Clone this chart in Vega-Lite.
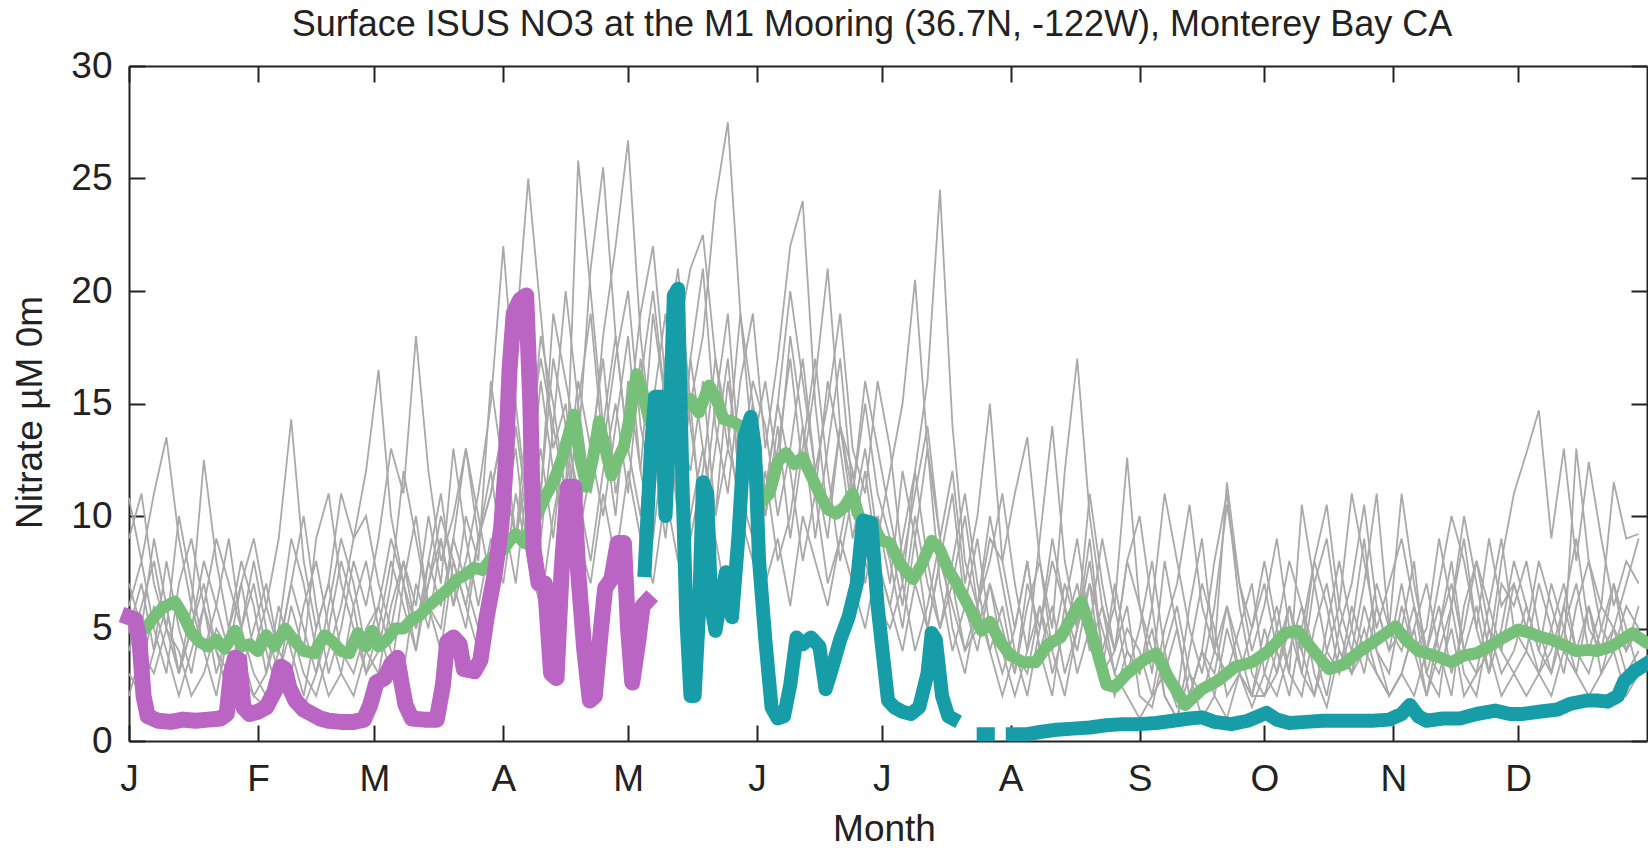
{
"$schema":"https://vega.github.io/schema/vega-lite/v6.json",
"width":1518,"height":675,
"autosize":{"type":"none"},
"padding":{"left":129,"top":66,"right":1,"bottom":107},
"background":"white",
"title":{"text":"Surface ISUS NO3 at the M1 Mooring (36.7N, -122W), Monterey Bay CA","anchor":"middle","frame":"group","offset":9,"dy":34,"baseline":"alphabetic","dx":-16,"font":"Liberation Sans","fontSize":36,"fontWeight":"normal","color":"#222222"},
"config":{"view":{"stroke":null},"axis":{"domainColor":"#222222","domainWidth":2,"tickColor":"#222222","tickWidth":2,"tickSize":-16,"grid":false,"labelFont":"Liberation Sans","labelFontSize":37,"labelColor":"#222222","titleFont":"Liberation Sans","titleFontSize":37,"titleFontWeight":"normal","titleColor":"#222222","labelFlush":false,"labelOverlap":false}},
"datasets":{
"gray":[
{"x":0,"a":6,"b":9,"c":4,"d":3,"e":5,"f":7,"g":2,"h":10.8,"i":5},
{"x":3,"a":8,"b":11,"c":6,"d":2,"e":3,"f":5,"g":4,"h":8,"i":7},
{"x":6,"a":5,"b":7,"c":8,"d":4,"e":6,"f":9,"g":3,"h":11,"i":4},
{"x":9,"a":3,"b":5,"c":5,"d":6,"e":4,"f":6,"g":5,"h":13.5,"i":8},
{"x":12,"a":7,"b":3,"c":10,"d":3,"e":2,"f":3,"g":4,"h":9,"i":5},
{"x":15,"a":9,"b":6,"c":7,"d":5,"e":4,"f":5,"g":2,"h":6,"i":3},
{"x":18,"a":6,"b":4,"c":4,"d":7,"e":6,"f":8,"g":3,"h":12.5,"i":6},
{"x":21,"a":4,"b":2,"c":6,"d":4,"e":3,"f":6,"g":5,"h":8,"i":9},
{"x":24,"a":3,"b":5,"c":9,"d":2,"e":5,"f":4,"g":4,"h":5,"i":7},
{"x":27,"a":5,"b":8,"c":5,"d":3,"e":4,"f":7,"g":3,"h":7,"i":5},
{"x":30,"a":7,"b":6,"c":3,"d":5,"e":2,"f":9,"g":2,"h":4,"i":8},
{"x":33,"a":4,"b":3,"c":2,"d":7,"e":3,"f":6,"g":1.5,"h":6,"i":5},
{"x":36,"a":2,"b":5,"c":4,"d":4,"e":6,"f":4,"g":3,"h":9,"i":3},
{"x":39,"a":3,"b":9,"c":7,"d":3,"e":4,"f":7,"g":5,"h":14.3,"i":6},
{"x":42,"a":6,"b":7,"c":5,"d":1.5,"e":2,"f":10,"g":3,"h":8,"i":4},
{"x":45,"a":8,"b":4,"c":3,"d":3,"e":5,"f":6,"g":2,"h":5,"i":9},
{"x":48,"a":5,"b":2,"c":6,"d":5,"e":7,"f":3,"g":4,"h":7,"i":11},
{"x":51,"a":3,"b":3,"c":9,"d":8,"e":4,"f":5,"g":6,"h":11,"i":7},
{"x":54,"a":2,"b":6,"c":7,"d":6,"e":3,"f":8,"g":9,"h":9,"i":5},
{"x":57,"a":4,"b":8,"c":4,"d":3,"e":5,"f":6,"g":12,"h":10,"i":3},
{"x":60,"a":6,"b":5,"c":3,"d":4,"e":6,"f":9,"g":16.5,"h":7,"i":5},
{"x":63,"a":9,"b":3,"c":6,"d":7,"e":4,"f":13,"g":10,"h":5,"i":8},
{"x":66,"a":7,"b":7,"c":8,"d":12,"e":3,"f":11,"g":7,"h":8,"i":6},
{"x":69,"a":4,"b":10,"c":5,"d":9,"e":7,"f":18,"g":5,"h":6,"i":4},
{"x":72,"a":8,"b":6,"c":7,"d":6,"e":5,"f":12,"g":8,"h":10,"i":7},
{"x":75,"a":11,"b":4,"c":10,"d":5,"e":9,"f":8,"g":6,"h":7,"i":9},
{"x":78,"a":7,"b":8,"c":8,"d":9,"e":6,"f":10,"g":9,"h":13,"i":6},
{"x":81,"a":5,"b":6,"c":6,"d":13,"e":8,"f":13,"g":7,"h":9,"i":10},
{"x":84,"a":9,"b":9,"c":4,"d":10,"e":11,"f":9,"g":5,"h":6,"i":8},
{"x":87,"a":12,"b":11,"c":7,"d":7,"e":15,"f":11,"g":8,"h":9,"i":16},
{"x":90,"a":8,"b":14,"c":10,"d":12,"e":22,"f":14,"g":10,"h":7,"i":12},
{"x":93,"a":14,"b":9,"c":13,"d":9,"e":15,"f":18,"g":7,"h":11,"i":9},
{"x":96,"a":10,"b":12,"c":8,"d":15,"e":10,"f":25,"g":12,"h":8,"i":13},
{"x":99,"a":16,"b":18,"c":11,"d":11,"e":13,"f":19,"g":9,"h":6,"i":17},
{"x":102,"a":12,"b":15,"c":17,"d":19,"e":9,"f":13,"g":14,"h":10,"i":14},
{"x":105,"a":9,"b":11,"c":14,"d":16,"e":14,"f":15,"g":11,"h":13,"i":20},
{"x":108,"a":15,"b":25.8,"c":9,"d":13,"e":11,"f":10,"g":16,"h":9,"i":15},
{"x":111,"a":19,"b":20,"c":12,"d":21,"e":8,"f":13,"g":13,"h":7,"i":11},
{"x":114,"a":13,"b":14,"c":18,"d":25.5,"e":12,"f":17,"g":10,"h":11,"i":14},
{"x":117,"a":17,"b":10,"c":22,"d":18,"e":15,"f":11,"g":14,"h":8,"i":18},
{"x":120,"a":20,"b":16,"c":26.7,"d":13,"e":11,"f":14,"g":18,"h":12,"i":13},
{"x":123,"a":14,"b":12,"c":18,"d":10,"e":17,"f":19,"g":12,"h":9,"i":16},
{"x":126,"a":11,"b":19,"c":13,"d":15,"e":13,"f":22,"g":9,"h":7,"i":20},
{"x":129,"a":17,"b":15,"c":16,"d":19,"e":9,"f":16,"g":14,"h":11,"i":15},
{"x":132,"a":21,"b":10,"c":20,"d":13,"e":14,"f":12,"g":11,"h":8,"i":18},
{"x":135,"a":15,"b":17,"c":14,"d":9,"e":12,"f":17,"g":15,"h":10,"i":21},
{"x":138,"a":18,"b":21,"c":10,"d":12,"e":16,"f":13,"g":9,"h":13,"i":22.5},
{"x":141,"a":24,"b":14,"c":15,"d":17,"e":10,"f":10,"g":13,"h":9,"i":17},
{"x":144,"a":27.5,"b":11,"c":19,"d":14,"e":13,"f":16,"g":17,"h":6,"i":13},
{"x":147,"a":19,"b":16,"c":12,"d":10,"e":11,"f":12,"g":11,"h":10,"i":19},
{"x":150,"a":13,"b":19,"c":16,"d":15,"e":9,"f":14,"g":15,"h":8,"i":15},
{"x":153,"a":16,"b":13,"c":14,"d":11,"e":12,"f":10,"g":10,"h":7,"i":11},
{"x":156,"a":12,"b":17,"c":10,"d":15,"e":8,"f":14,"g":13,"h":9,"i":15},
{"x":159,"a":18,"b":22,"c":13,"d":12,"e":10,"f":9,"g":17,"h":6,"i":20},
{"x":162,"a":14,"b":24,"c":17,"d":8,"e":14,"f":13,"g":12,"h":10,"i":16},
{"x":165,"a":9,"b":15,"c":12,"d":11,"e":11,"f":17,"g":16,"h":8,"i":12},
{"x":168,"a":13,"b":10,"c":9,"d":16,"e":7,"f":12,"g":21,"h":6,"i":15},
{"x":171,"a":17,"b":14,"c":14,"d":13,"e":9,"f":8,"g":14,"h":9,"i":19},
{"x":174,"a":11,"b":12,"c":11,"d":9,"e":12,"f":11,"g":10,"h":7,"i":13},
{"x":177,"a":8,"b":7,"c":16,"d":12,"e":8,"f":15,"g":13,"h":5,"i":11},
{"x":180,"a":10,"b":10,"c":13,"d":8,"e":6,"f":11,"g":9,"h":8,"i":16},
{"x":183,"a":7,"b":8,"c":10,"d":6,"e":5,"f":9,"g":12,"h":6,"i":13},
{"x":186,"a":12,"b":5,"c":7,"d":9,"e":7,"f":6,"g":15,"h":4,"i":8},
{"x":189,"a":9,"b":9,"c":12,"d":12,"e":4,"f":10,"g":20.5,"h":7,"i":11},
{"x":192,"a":5,"b":13,"c":16,"d":8,"e":6,"f":7,"g":13,"h":5,"i":14},
{"x":195,"a":8,"b":7,"c":24.5,"d":5,"e":9,"f":5,"g":9,"h":8,"i":9},
{"x":198,"a":11,"b":4,"c":14,"d":7,"e":5,"f":8,"g":12,"h":6,"i":7},
{"x":201,"a":6,"b":6,"c":8,"d":4,"e":3,"f":11,"g":7,"h":4,"i":10},
{"x":204,"a":4,"b":9,"c":6,"d":6,"e":6,"f":7,"g":10,"h":5,"i":6},
{"x":207,"a":7,"b":5,"c":10,"d":9,"e":4,"f":4,"g":15,"h":7,"i":8},
{"x":210,"a":5,"b":3,"c":7,"d":8,"e":2,"f":6,"g":8,"h":4,"i":11},
{"x":213,"a":3,"b":5,"c":4,"d":11,"e":4,"f":3,"g":5,"h":2,"i":7},
{"x":216,"a":6,"b":8,"c":2,"d":13.5,"e":3,"f":7,"g":8,"h":4,"i":4},
{"x":219,"a":8,"b":4,"c":5,"d":8,"e":6,"f":5,"g":4,"h":6,"i":9},
{"x":222,"a":4,"b":2,"c":8,"d":5,"e":4,"f":9,"g":6,"h":3,"i":14},
{"x":225,"a":2,"b":6,"c":6,"d":12,"e":7,"f":6,"g":3,"h":5,"i":8},
{"x":228,"a":5,"b":9,"c":3,"d":17,"e":5,"f":4,"g":5,"h":7,"i":5},
{"x":231,"a":7,"b":5,"c":5,"d":10,"e":9,"f":7,"g":8,"h":4,"i":11},
{"x":234,"a":3,"b":3,"c":9,"d":6,"e":4,"f":5,"g":4,"h":6,"i":7},
{"x":237,"a":4,"b":7,"c":6,"d":4,"e":6,"f":3,"g":2,"h":3,"i":4},
{"x":240,"a":6,"b":4,"c":3,"d":8,"e":12.6,"f":5,"g":4,"h":2,"i":8},
{"x":243,"a":2,"b":3,"c":5,"d":6,"e":6,"f":4,"g":3,"h":1,"i":10},
{"x":246,"a":1.5,"b":6,"c":8,"d":3,"e":4,"f":2,"g":5,"h":2,"i":6},
{"x":249,"a":4,"b":2,"c":4,"d":8,"e":3,"f":5,"g":2,"h":3,"i":11},
{"x":252,"a":6,"b":1,"c":2,"d":5,"e":5,"f":7,"g":1,"h":1.5,"i":8},
{"x":255,"a":3,"b":4,"c":6,"d":2,"e":2,"f":10.5,"g":3,"h":2,"i":5},
{"x":258,"a":1,"b":7,"c":9,"d":4,"e":4,"f":6,"g":2,"h":4,"i":3},
{"x":261,"a":2,"b":5,"c":4,"d":8,"e":3,"f":4,"g":4,"h":2,"i":6},
{"x":264,"a":5,"b":2,"c":3,"d":11,"e":6,"f":11.5,"g":6,"h":1,"i":10.5},
{"x":267,"a":3,"b":3,"c":5,"d":6,"e":4,"f":7,"g":3,"h":3,"i":7},
{"x":270,"a":2,"b":5,"c":7,"d":3,"e":2,"f":4,"g":1.5,"h":2,"i":5},
{"x":273,"a":4,"b":7,"c":3,"d":2,"e":5,"f":6,"g":3,"h":2,"i":8},
{"x":276,"a":6,"b":4,"c":5,"d":4,"e":3,"f":9,"g":2,"h":3,"i":5},
{"x":279,"a":3,"b":2,"c":8,"d":6,"e":6,"f":5,"g":4,"h":5,"i":3},
{"x":282,"a":2,"b":5,"c":6,"d":3,"e":4,"f":4,"g":6,"h":3,"i":10.5},
{"x":285,"a":5,"b":8,"c":4,"d":7,"e":2,"f":8,"g":3,"h":2,"i":7},
{"x":288,"a":7,"b":6,"c":2,"d":9,"e":5,"f":10.5,"g":1.5,"h":4,"i":4},
{"x":291,"a":4,"b":3,"c":5,"d":5,"e":8,"f":6,"g":4,"h":3,"i":6},
{"x":294,"a":3,"b":5,"c":7,"d":3,"e":5,"f":4,"g":3,"h":6,"i":11},
{"x":297,"a":6,"b":9,"c":10.5,"d":4,"e":3,"f":7,"g":5,"h":4,"i":8},
{"x":300,"a":4,"b":4,"c":6,"d":7,"e":6,"f":11,"g":3,"h":3,"i":5},
{"x":303,"a":2,"b":3,"c":4,"d":5,"e":4,"f":5,"g":2,"h":2,"i":7},
{"x":306,"a":3,"b":6,"c":5,"d":11,"e":7,"f":4,"g":3,"h":3,"i":9},
{"x":309,"a":5,"b":4,"c":8,"d":7,"e":4,"f":6,"g":2,"h":5,"i":6},
{"x":312,"a":7,"b":2,"c":3,"d":4,"e":5,"f":3,"g":4,"h":2,"i":4},
{"x":315,"a":4,"b":5,"c":2,"d":6,"e":9,"f":5,"g":3,"h":4,"i":7},
{"x":318,"a":2,"b":8,"c":6,"d":3,"e":6,"f":7,"g":5,"h":6,"i":10},
{"x":321,"a":6,"b":4,"c":9,"d":5,"e":10,"f":4,"g":2,"h":3,"i":8},
{"x":324,"a":8,"b":3,"c":5,"d":8,"e":7,"f":6,"g":3,"h":2,"i":5},
{"x":327,"a":5,"b":6,"c":3,"d":6,"e":4,"f":3,"g":4,"h":5,"i":9},
{"x":330,"a":3,"b":9,"c":7,"d":4,"e":8,"f":5,"g":2,"h":4,"i":6},
{"x":333,"a":4,"b":5,"c":6,"d":7,"e":11,"f":8,"g":3,"h":3,"i":7},
{"x":336,"a":6,"b":4,"c":8,"d":5,"e":12.8,"f":6,"g":2,"h":4,"i":5},
{"x":339,"a":4,"b":7,"c":5,"d":3,"e":14.7,"f":4,"g":3,"h":3,"i":8},
{"x":342,"a":3,"b":5,"c":3,"d":4,"e":9,"f":7,"g":2,"h":5,"i":6},
{"x":345,"a":5,"b":3,"c":6,"d":6,"e":13,"f":5,"g":4,"h":7,"i":4},
{"x":348,"a":7,"b":6,"c":9,"d":4,"e":8,"f":3,"g":3,"h":4,"i":13},
{"x":351,"a":4,"b":8,"c":5,"d":3,"e":12.4,"f":6,"g":2,"h":6,"i":8},
{"x":354,"a":6,"b":5,"c":4,"d":5,"e":9,"f":4,"g":3,"h":3,"i":6},
{"x":357,"a":5,"b":4,"c":7,"d":7,"e":6,"f":5,"g":4,"h":5,"i":11.5},
{"x":360,"a":3,"b":6,"c":5,"d":4,"e":8,"f":7,"g":2,"h":4,"i":9},
{"x":363,"a":4,"b":5,"c":3,"d":5,"e":7,"f":9,"g":3,"h":6,"i":9.2}
],
"green":[
{"x":4,"v":5.0},{"x":6,"v":5.5},{"x":8,"v":5.9},{"x":11,"v":6.2},{"x":13,"v":5.6},{"x":15,"v":4.8},{"x":17,"v":4.4},{"x":19,"v":4.2},{"x":21,"v":4.5},{"x":23,"v":4.1},{"x":25.5,"v":4.9},{"x":27,"v":4.2},{"x":29,"v":4.3},{"x":31,"v":4.0},{"x":33,"v":4.7},{"x":35,"v":4.2},{"x":37.5,"v":5.0},{"x":40,"v":4.4},{"x":42,"v":4.0},{"x":44.5,"v":3.9},{"x":47,"v":4.7},{"x":49,"v":4.4},{"x":51,"v":4.0},{"x":53,"v":3.9},{"x":55,"v":4.8},{"x":57,"v":4.2},{"x":58.5,"v":4.9},{"x":60,"v":4.2},{"x":62,"v":4.5},{"x":64,"v":5.0},{"x":66,"v":5.0},{"x":68,"v":5.4},{"x":70,"v":5.6},{"x":72,"v":6.0},{"x":74.5,"v":6.4},{"x":77,"v":6.8},{"x":79,"v":7.2},{"x":81,"v":7.4},{"x":83,"v":7.7},{"x":85,"v":7.6},{"x":87.5,"v":8.2},{"x":90,"v":8.5},{"x":91.5,"v":8.9},{"x":93,"v":9.2},{"x":95,"v":8.8},{"x":97,"v":9.6},{"x":99,"v":10.4},{"x":100.5,"v":11.0},{"x":102,"v":11.5},{"x":104,"v":12.5},{"x":105.5,"v":13.5},{"x":107,"v":14.5},{"x":108.5,"v":12.5},{"x":110,"v":11.3},{"x":111.5,"v":12.5},{"x":113,"v":14.2},{"x":114.5,"v":13.0},{"x":116,"v":11.8},{"x":117.5,"v":12.5},{"x":119,"v":13.1},{"x":120.5,"v":14.5},{"x":122,"v":16.3},{"x":123.5,"v":15.5},{"x":125,"v":14.3},{"x":127,"v":13.5},{"x":129,"v":14.0},{"x":131,"v":14.5},{"x":133,"v":14.8},{"x":135,"v":15.2},{"x":137,"v":14.6},{"x":139.5,"v":15.8},{"x":141,"v":15.3},{"x":143,"v":14.3},{"x":145,"v":14.2},{"x":147,"v":14.0},{"x":149,"v":13.3},{"x":151,"v":11.5},{"x":152,"v":10.6},{"x":154,"v":11.0},{"x":156,"v":12.4},{"x":158,"v":12.8},{"x":160,"v":12.3},{"x":162,"v":12.6},{"x":164,"v":11.8},{"x":166,"v":11.0},{"x":168,"v":10.3},{"x":170,"v":10.1},{"x":172,"v":10.4},{"x":174,"v":11.0},{"x":175.5,"v":10.0},{"x":177,"v":9.6},{"x":179,"v":9.5},{"x":181,"v":8.9},{"x":183,"v":8.8},{"x":185,"v":8.0},{"x":187,"v":7.5},{"x":188.5,"v":7.2},{"x":190.5,"v":7.8},{"x":193,"v":8.9},{"x":195,"v":8.5},{"x":197,"v":7.6},{"x":199,"v":7.0},{"x":201,"v":6.3},{"x":203,"v":5.6},{"x":205,"v":4.9},{"x":207,"v":5.3},{"x":209.5,"v":4.4},{"x":212,"v":3.8},{"x":215,"v":3.5},{"x":218,"v":3.5},{"x":221,"v":4.3},{"x":224,"v":4.6},{"x":227,"v":5.6},{"x":229,"v":6.2},{"x":232,"v":4.5},{"x":235,"v":2.5},{"x":237,"v":2.4},{"x":240,"v":3.0},{"x":244,"v":3.6},{"x":247,"v":3.9},{"x":250,"v":2.8},{"x":254,"v":1.6},{"x":258,"v":2.3},{"x":262,"v":2.7},{"x":266,"v":3.3},{"x":270,"v":3.5},{"x":274,"v":4.0},{"x":278,"v":4.8},{"x":281,"v":4.9},{"x":284,"v":4.2},{"x":288.5,"v":3.2},{"x":292,"v":3.4},{"x":296,"v":4.0},{"x":300,"v":4.5},{"x":304.5,"v":5.1},{"x":307,"v":4.5},{"x":310,"v":4.0},{"x":314,"v":3.8},{"x":318,"v":3.5},{"x":321,"v":3.8},{"x":324,"v":3.9},{"x":327,"v":4.2},{"x":330.5,"v":4.6},{"x":334,"v":4.95},{"x":337,"v":4.8},{"x":339,"v":4.65},{"x":342,"v":4.5},{"x":344,"v":4.35},{"x":348,"v":4.0},{"x":351,"v":4.05},{"x":353,"v":4.0},{"x":356.5,"v":4.2},{"x":359,"v":4.5},{"x":361.5,"v":4.8},{"x":363,"v":4.6},{"x":365,"v":4.35}
],
"magenta":[
{"x":0,"v":5.5},{"x":1.5,"v":5.4},{"x":2.5,"v":4.5},{"x":3.5,"v":2.0},{"x":4.5,"v":1.1},{"x":7,"v":0.9},{"x":10,"v":0.85},{"x":13,"v":0.95},{"x":16,"v":0.9},{"x":19,"v":0.95},{"x":22,"v":1.0},{"x":23.5,"v":1.2},{"x":24.5,"v":3.0},{"x":25.5,"v":3.7},{"x":26.5,"v":3.6},{"x":27.5,"v":1.5},{"x":29,"v":1.2},{"x":31,"v":1.3},{"x":33,"v":1.5},{"x":35,"v":2.2},{"x":36.5,"v":3.3},{"x":37.5,"v":3.2},{"x":38.5,"v":2.4},{"x":40,"v":1.8},{"x":42,"v":1.4},{"x":44,"v":1.2},{"x":46,"v":1.0},{"x":48,"v":0.9},{"x":51,"v":0.85},{"x":54,"v":0.85},{"x":56.5,"v":0.95},{"x":58,"v":1.6},{"x":59.5,"v":2.6},{"x":61.5,"v":2.8},{"x":63,"v":3.4},{"x":64.5,"v":3.7},{"x":65.5,"v":2.6},{"x":66.5,"v":1.6},{"x":68,"v":1.0},{"x":71,"v":0.95},{"x":74,"v":0.95},{"x":75.5,"v":2.5},{"x":76.5,"v":4.4},{"x":78,"v":4.6},{"x":79.5,"v":4.3},{"x":80.5,"v":3.2},{"x":83,"v":3.1},{"x":84.5,"v":3.6},{"x":86,"v":5.5},{"x":88,"v":7.5},{"x":89.5,"v":9.5},{"x":90.5,"v":12},{"x":91.5,"v":16.5},{"x":92.5,"v":19.0},{"x":94,"v":19.6},{"x":95.5,"v":19.8},{"x":96.5,"v":15},{"x":97.3,"v":8.5},{"x":98.5,"v":7.0},{"x":100,"v":7.0},{"x":101.5,"v":3.0},{"x":102.8,"v":2.8},{"x":104,"v":7.5},{"x":105.5,"v":11.3},{"x":107,"v":11.3},{"x":108,"v":7.5},{"x":109.5,"v":4.0},{"x":110.8,"v":1.8},{"x":112,"v":2.0},{"x":113.5,"v":5.0},{"x":114.5,"v":6.8},{"x":116,"v":7.2},{"x":117.5,"v":8.8},{"x":119,"v":8.8},{"x":120,"v":5.0},{"x":121,"v":2.6},{"x":122.5,"v":4.5},{"x":123.5,"v":6.0},{"x":124.5,"v":6.2}
],
"teal":[
{"p":"t1","x":124,"v":7.6},{"p":"t1","x":124.8,"v":10.5},{"p":"t1","x":125.5,"v":13.0},{"p":"t1","x":126.5,"v":15.3},{"p":"t1","x":128,"v":15.3},{"p":"t1","x":129,"v":10.0},{"p":"t1","x":130,"v":14.0},{"p":"t1","x":131,"v":19.8},{"p":"t1","x":132,"v":20.1},{"p":"t1","x":133,"v":12.0},{"p":"t1","x":134,"v":5.5},{"p":"t1","x":135,"v":2.0},{"p":"t1","x":136,"v":2.0},{"p":"t1","x":137,"v":5.5},{"p":"t1","x":138,"v":11.5},{"p":"t1","x":139,"v":11.0},{"p":"t1","x":140,"v":6.0},{"p":"t1","x":141,"v":4.9},{"p":"t1","x":142.5,"v":6.5},{"p":"t1","x":143.5,"v":7.5},{"p":"t1","x":145,"v":5.5},{"p":"t1","x":146.5,"v":9.0},{"p":"t1","x":148,"v":13.5},{"p":"t1","x":149.5,"v":14.4},{"p":"t1","x":150.5,"v":13.0},{"p":"t1","x":151.5,"v":8.0},{"p":"t1","x":153,"v":4.5},{"p":"t1","x":154.5,"v":1.5},{"p":"t1","x":156,"v":1.0},{"p":"t1","x":157.5,"v":1.1},{"p":"t1","x":159,"v":2.5},{"p":"t1","x":160.5,"v":4.6},{"p":"t1","x":162,"v":4.3},{"p":"t1","x":164,"v":4.6},{"p":"t1","x":166,"v":4.2},{"p":"t1","x":167.5,"v":2.3},{"p":"t1","x":169,"v":3.2},{"p":"t1","x":171,"v":4.5},{"p":"t1","x":173,"v":5.5},{"p":"t1","x":175,"v":7.0},{"p":"t1","x":176.5,"v":9.8},{"p":"t1","x":178.5,"v":9.7},{"p":"t1","x":180,"v":6.0},{"p":"t1","x":181,"v":4.3},{"p":"t1","x":182.5,"v":1.8},{"p":"t1","x":184,"v":1.5},{"p":"t1","x":186,"v":1.3},{"p":"t1","x":188,"v":1.2},{"p":"t1","x":190,"v":1.5},{"p":"t1","x":192,"v":3.0},{"p":"t1","x":193,"v":4.8},{"p":"t1","x":194,"v":4.5},{"p":"t1","x":195.5,"v":2.0},{"p":"t1","x":197,"v":1.1},{"p":"t1","x":198,"v":1.0},
{"p":"t2","x":205.5,"v":0.3},{"p":"t2","x":206.5,"v":0.3},
{"p":"t3","x":212.5,"v":0.3},{"p":"t3","x":216,"v":0.3},{"p":"t3","x":219,"v":0.4},{"p":"t3","x":223,"v":0.5},{"p":"t3","x":227,"v":0.55},{"p":"t3","x":231,"v":0.6},{"p":"t3","x":235,"v":0.7},{"p":"t3","x":239,"v":0.75},{"p":"t3","x":243,"v":0.75},{"p":"t3","x":247,"v":0.8},{"p":"t3","x":251,"v":0.9},{"p":"t3","x":255,"v":1.0},{"p":"t3","x":258,"v":1.05},{"p":"t3","x":261,"v":0.85},{"p":"t3","x":265,"v":0.75},{"p":"t3","x":269,"v":0.9},{"p":"t3","x":273.5,"v":1.25},{"p":"t3","x":276,"v":0.95},{"p":"t3","x":279,"v":0.8},{"p":"t3","x":283,"v":0.85},{"p":"t3","x":287,"v":0.9},{"p":"t3","x":291,"v":0.9},{"p":"t3","x":295,"v":0.9},{"p":"t3","x":299,"v":0.9},{"p":"t3","x":303,"v":0.95},{"p":"t3","x":306,"v":1.2},{"p":"t3","x":308,"v":1.6},{"p":"t3","x":310,"v":1.1},{"p":"t3","x":312,"v":0.9},{"p":"t3","x":316,"v":1.0},{"p":"t3","x":320,"v":1.0},{"p":"t3","x":324,"v":1.2},{"p":"t3","x":328.5,"v":1.35},{"p":"t3","x":332,"v":1.2},{"p":"t3","x":335,"v":1.2},{"p":"t3","x":339,"v":1.3},{"p":"t3","x":343.5,"v":1.4},{"p":"t3","x":346.5,"v":1.65},{"p":"t3","x":350.5,"v":1.8},{"p":"t3","x":353,"v":1.8},{"p":"t3","x":355.5,"v":1.75},{"p":"t3","x":358,"v":2.0},{"p":"t3","x":359.5,"v":2.65},{"p":"t3","x":362,"v":3.1},{"p":"t3","x":365,"v":3.45}
]
},
"layer":[
{"data":{"name":"gray"},
 "transform":[{"fold":["a","b","c","d","e","f","g","h","i"],"as":["s","v"]}],
 "mark":{"type":"line","color":"#a9a9a9","strokeWidth":1.8},
 "encoding":{
  "x":{"field":"x","type":"quantitative","scale":{"domain":[0,365],"nice":false,"zero":false},
   "axis":{"orient":"bottom","values":[0,31,59,90,120,151,181,212,243,273,304,334],
    "labelExpr":"['J','F','M','A','M','J','J','A','S','O','N','D'][indexof([0,31,59,90,120,151,181,212,243,273,304,334], datum.value)]",
    "labelPadding":65,"labelBaseline":"alphabetic","labelAlign":"center",
    "title":"Month","titleX":755,"titleY":88,"titleBaseline":"middle","titleAlign":"center"}},
  "y":{"field":"v","type":"quantitative","scale":{"domain":[0,30],"nice":false},
   "axis":{"orient":"left","values":[0,5,10,15,20,25,30],"labelPadding":33,"labelBaseline":"middle",
    "title":"Nitrate µM 0m","titleX":-99,"titleY":346,"titleAngle":-90,"titleBaseline":"middle","titleAlign":"center"}},
  "detail":{"field":"s","type":"nominal"}}},
{"data":{"name":"green"},
 "mark":{"type":"line","color":"#77c079","strokeWidth":12,"strokeJoin":"round","strokeCap":"round"},
 "encoding":{
  "x":{"field":"x","type":"quantitative","scale":{"domain":[0,365],"nice":false,"zero":false},
   "axis":{"orient":"top","labels":false,"title":null,"values":[0,31,59,90,120,151,181,212,243,273,304,334]}},
  "y":{"field":"v","type":"quantitative","scale":{"domain":[0,30],"nice":false},
   "axis":{"orient":"right","labels":false,"title":null,"values":[0,5,10,15,20,25,30]}}}},
{"data":{"name":"magenta"},
 "mark":{"type":"line","color":"#ba64c4","strokeWidth":16,"strokeJoin":"round","strokeCap":"square"},
 "encoding":{
  "x":{"field":"x","type":"quantitative","axis":null},
  "y":{"field":"v","type":"quantitative","axis":null}}},
{"data":{"name":"teal"},
 "mark":{"type":"line","color":"#179da8","strokeWidth":14,"strokeJoin":"round","strokeCap":"square"},
 "encoding":{
  "x":{"field":"x","type":"quantitative","axis":null},
  "y":{"field":"v","type":"quantitative","axis":null},
  "detail":{"field":"p","type":"nominal"}}}
],
"resolve":{"axis":{"x":"independent","y":"independent"}}
}
